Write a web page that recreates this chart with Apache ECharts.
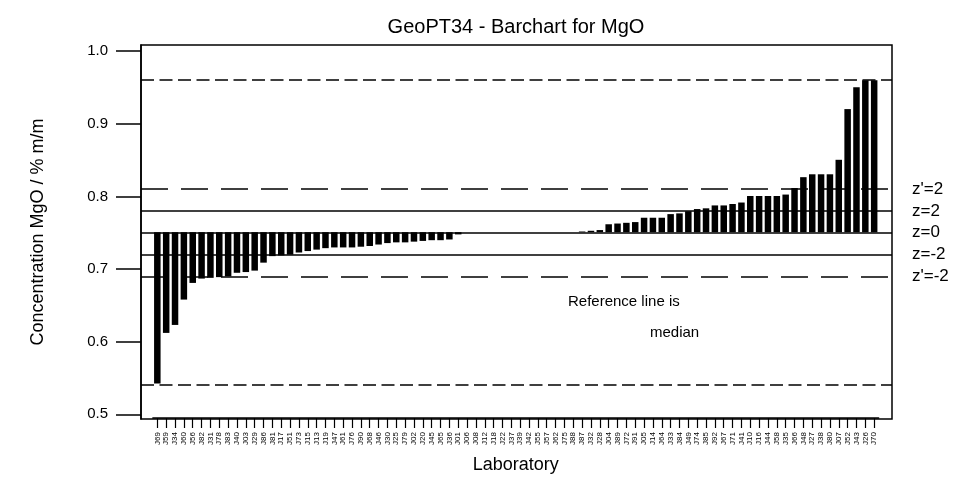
<!DOCTYPE html>
<html>
<head>
<meta charset="utf-8">
<title>GeoPT34 - Barchart for MgO</title>
<script src="https://cdn.jsdelivr.net/npm/echarts@6/dist/echarts.min.js"></script>
<style>
  html, body { margin: 0; padding: 0; background: #fff; }
  #chart { width: 978px; height: 479px; }
</style>
</head>
<body>
<div id="chart"></div>
<script>
// ---- data ----
const labs = ['J69','J59','J34','J60','J56','J82','J31','J78','J83','J40','J03','J29','J86','J81','J17','J51','J73','J15','J13','J19',
  'J47','J61','J76','J90','J68','J46','J30','J25','J79','J02','J20','J45','J65','J36','J01','J06','J08','J12','J18','J22',
  'J37','J39','J42','J55','J57','J62','J75','J88','J87','J32','J28','J04','J89','J72','J91','J05','J14','J64','J33','J84',
  'J49','J74','J85','J92','J67','J71','J41','J10','J16','J44','J58','J35','J66','J48','J27','J38','J80','J07','J52','J43',
  'J26','J70'];
const mgo = [0.541,0.611,0.622,0.657,0.680,0.686,0.687,0.688,0.689,0.694,0.695,0.697,0.708,0.717,0.718,0.719,0.722,0.724,0.726,0.728,
  0.729,0.729,0.729,0.730,0.731,0.733,0.735,0.736,0.736,0.737,0.738,0.739,0.739,0.740,0.747,0.750,0.750,0.750,0.750,0.750,
  0.750,0.750,0.750,0.750,0.750,0.750,0.750,0.750,0.751,0.752,0.753,0.761,0.762,0.763,0.764,0.770,0.770,0.770,0.775,0.776,
  0.779,0.782,0.783,0.787,0.787,0.789,0.791,0.800,0.800,0.800,0.800,0.802,0.811,0.826,0.830,0.830,0.830,0.850,0.920,0.950,
  0.960,0.960];
const median = 0.75;
const refValues = [0.958, 0.811, 0.781, 0.750, 0.719, 0.689, 0.541];
const refLabels = ['', "z'=2", 'z=2', 'z=0', 'z=-2', "z'=-2", ''];
const yTicks = [0.5, 0.6, 0.7, 0.8, 0.9, 1.0];

const FONT = '"Liberation Sans", Arial, Helvetica, sans-serif';
const Y_MIN = 0.4935, Y_MAX = 1.0085;

// outer lines: short dashes, z' lines: long dashes, z lines: solid
const refStyle = (label) => {
  if (!label) return { color: '#000', width: 1.5, type: [13, 5.5] };
  if (label.indexOf("'") >= 0) return { color: '#000', width: 1.5, type: [27, 13] };
  return { color: '#000', width: 1.5, type: 'solid' };
};

const chart = echarts.init(document.getElementById('chart'), null, { renderer: 'canvas' });

const option = {
  animation: false,
  backgroundColor: '#fff',
  title: {
    text: 'GeoPT34 - Barchart for MgO',
    left: 516, top: 17, padding: 0, textAlign: 'center',
    textStyle: { fontFamily: FONT, fontSize: 20, fontWeight: 'normal', color: '#000' }
  },
  grid: [
    // the plot box
    { left: 141, right: 86, top: 45, bottom: 60, show: true, borderColor: '#000', borderWidth: 1.5, backgroundColor: 'transparent' },
    // the bars (R barplot leaves extra room at both ends)
    { left: 152.9, right: 99.4, top: 45, bottom: 60 }
  ],
  xAxis: [
    { gridIndex: 0, type: 'value', min: 0, max: 1, show: false },
    {
      gridIndex: 1, type: 'category', data: labs, boundaryGap: true,
      axisLine: { show: true, lineStyle: { color: '#000', width: 1.5 } },
      axisTick: { show: true, alignWithLabel: true, interval: 0, length: 10, lineStyle: { color: '#000', width: 1.2 } },
      axisLabel: { interval: 0, rotate: 90, fontSize: 8, margin: 14, color: '#000', fontFamily: FONT },
      name: 'Laboratory', nameLocation: 'middle', nameGap: 38,
      nameTextStyle: { fontFamily: FONT, fontSize: 18, color: '#000' }
    }
  ],
  yAxis: [
    {
      gridIndex: 0, type: 'value', min: Y_MIN, max: Y_MAX,
      axisLine: { show: true, lineStyle: { color: '#000', width: 1.5 } },
      axisTick: { show: true, length: 25, customValues: yTicks, lineStyle: { color: '#000', width: 1.5 } },
      axisLabel: { customValues: yTicks, formatter: (v) => v.toFixed(1), fontSize: 15, margin: 33, color: '#000', fontFamily: FONT },
      splitLine: { show: false },
      name: 'Concentration MgO / % m/m', nameLocation: 'middle', nameGap: 94,
      nameTextStyle: { fontFamily: FONT, fontSize: 18, color: '#000' }
    },
    { gridIndex: 1, type: 'value', min: Y_MIN, max: Y_MAX, show: false }
  ],
  series: [
    {
      // carrier for the reference lines, spans the whole box
      type: 'line', xAxisIndex: 0, yAxisIndex: 0, data: [],
      markLine: {
        silent: true, symbol: 'none', animation: false,
        data: refValues.map((v, i) => ({
          yAxis: v, name: refLabels[i],
          lineStyle: refStyle(refLabels[i]),
          label: {
            show: !!refLabels[i], position: 'end', distance: 20, formatter: refLabels[i],
            fontFamily: FONT, fontSize: 17, color: '#000'
          }
        }))
      }
    },
    {
      // invisible base so the bars hang from the median
      type: 'bar', xAxisIndex: 1, yAxisIndex: 1, stack: 'm', barWidth: 6.5, silent: true,
      itemStyle: { color: 'transparent' },
      data: mgo.map(v => Math.min(v, median))
    },
    {
      type: 'bar', xAxisIndex: 1, yAxisIndex: 1, stack: 'm', barWidth: 6.5,
      itemStyle: { color: '#000' },
      data: mgo.map(v => +Math.abs(v - median).toFixed(4))
    }
  ],
  graphic: [
    { type: 'text', left: 568, top: 294, style: { text: 'Reference line is', font: '15px ' + FONT, fill: '#000' } },
    { type: 'text', left: 650, top: 325, style: { text: 'median', font: '15px ' + FONT, fill: '#000' } }
  ]
};

chart.setOption(option);
window.addEventListener('resize', () => chart.resize());
</script>
</body>
</html>
